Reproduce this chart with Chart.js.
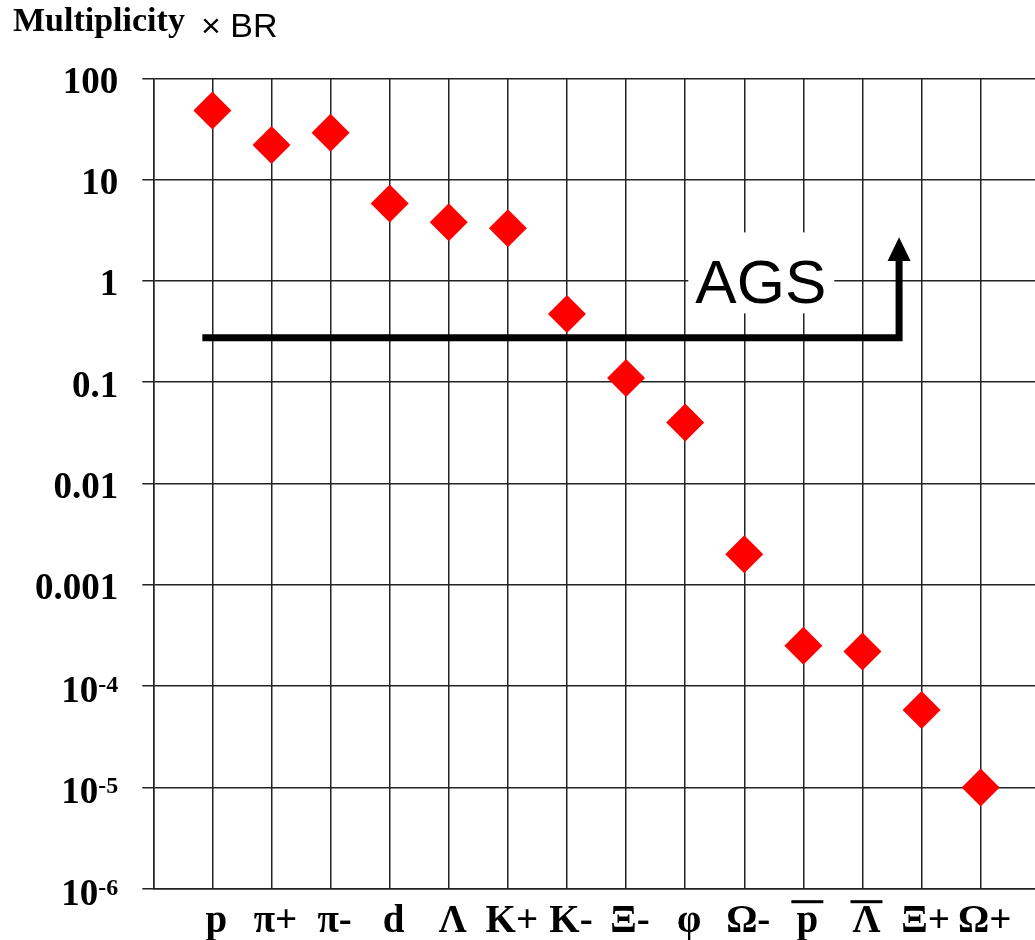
<!DOCTYPE html>
<html>
<head>
<meta charset="utf-8">
<title>Multiplicity × BR</title>
<script src="https://cdn.jsdelivr.net/npm/chart.js@4.4.1/dist/chart.umd.min.js"></script>
<style>
  html, body { margin: 0; padding: 0; background: #fff; overflow: hidden; }
  #yieldChart { display: block; width: 1035px; height: 940px; }
</style>
</head>
<body>
<canvas id="yieldChart" width="1035" height="940"></canvas>
<script>
// particle species along the x axis (a trailing U+0305 means "draw a bar over it")
const particles = ['p', 'π+', 'π-', 'd', 'Λ', 'K+', 'K-', 'Ξ-', 'φ', 'Ω-', 'p\u0305', 'Λ\u0305', 'Ξ+', 'Ω+'];
// multiplicity x branching ratio per species
const multiplicity = [48, 22, 29, 5.8, 3.8, 3.3, 0.47, 0.11, 0.04, 0.002, 2.5e-4, 2.2e-4, 5.8e-5, 1e-5];
// decade ticks on the log axis; '^' splits off the exponent
const yTicks = [1e-6, 1e-5, 1e-4, 1e-3, 1e-2, 0.1, 1, 10, 100];
const yTickLabels = ['10^-6', '10^-5', '10^-4', '0.001', '0.01', '0.1', '1', '10', '100'];
// AGS reach: threshold line running right, then up into an arrow
const agsX = [-0.17, 11.62, 11.62];
const agsY = [0.275, 0.275, 1.57];
const agsArrowTip = 2.7;
const agsLabel = 'AGS';
const agsLabelX = 9.28;
const agsLabelY = 0.6;

const serif = '"Liberation Serif", "Times New Roman", serif';
const sans = '"Liberation Sans", Arial, sans-serif';
const gridColor = '#222';

const decorations = {
    id: 'decorations',
    beforeDatasetsDraw(chart) {
        const { ctx, scales: { x, y } } = chart;
        // label sits on a white patch that hides the grid behind it
        ctx.save();
        ctx.font = '62px ' + sans;
        const w = ctx.measureText(agsLabel).width;
        const cx = x.getPixelForValue(agsLabelX);
        const base = y.getPixelForValue(agsLabelY);
        ctx.fillStyle = '#fff';
        ctx.fillRect(cx - w / 2 - 7, base - 71, w + 15, 81);
        ctx.fillStyle = '#000';
        ctx.textAlign = 'center';
        ctx.textBaseline = 'alphabetic';
        ctx.fillText(agsLabel, cx, base);
        ctx.restore();
    },
    afterDraw(chart) {
        const { ctx, chartArea, scales: { x, y } } = chart;
        ctx.save();
        ctx.fillStyle = '#000';
        ctx.textBaseline = 'alphabetic';

        // arrow head on top of the AGS line
        const ax = x.getPixelForValue(agsX[agsX.length - 1]);
        const tipY = y.getPixelForValue(agsArrowTip);
        const baseY = y.getPixelForValue(agsY[agsY.length - 1]);
        ctx.beginPath();
        ctx.moveTo(ax, tipY);
        ctx.lineTo(ax + 11.5, baseY);
        ctx.lineTo(ax - 11.5, baseY);
        ctx.closePath();
        ctx.fill();

        // axis title
        ctx.textAlign = 'left';
        ctx.font = 'bold 34px ' + serif;
        ctx.fillText('Multiplicity', 13, 31);
        ctx.font = '34px ' + sans;
        ctx.fillText('× BR', 201, 37);

        // y tick labels, powers of ten get a superscript
        const right = chartArea.left - 35;
        ctx.textAlign = 'right';
        yTicks.forEach((v, i) => {
            const py = y.getPixelForValue(v);
            const [mant, exp] = yTickLabels[i].split('^');
            if (exp) {
                ctx.font = 'bold 24px ' + serif;
                ctx.fillText(exp, right, py + 6);
                const ew = ctx.measureText(exp).width;
                ctx.font = 'bold 37px ' + serif;
                ctx.fillText(mant, right - ew, py + 16);
            } else {
                ctx.font = 'bold 37px ' + serif;
                ctx.fillText(mant, right, py + 14.5);
            }
        });

        // species names under the axis
        ctx.textAlign = 'center';
        ctx.font = 'bold 39px ' + serif;
        particles.forEach((name, i) => {
            const px = x.getPixelForValue(i) + 4;
            const bar = name.endsWith('\u0305');
            const text = bar ? name.slice(0, -1) : name;
            ctx.fillText(text, px, chartArea.bottom + 43);
            if (bar) {
                ctx.fillRect(px - 16, chartArea.bottom + 11.5, 32, 3);
            }
        });
        ctx.restore();
    }
};

const ctx = document.getElementById('yieldChart').getContext('2d');
const chart = new Chart(ctx, {
    type: 'scatter',
    data: {
        datasets: [
            {
                label: 'Multiplicity × BR',
                data: multiplicity.map((v, i) => ({ x: i, y: v })),
                pointStyle: 'rectRot',
                pointRadius: 19,
                pointHoverRadius: 19,
                pointBackgroundColor: '#ff0000',
                pointBorderWidth: 0,
                borderColor: '#ff0000',
                showLine: false,
                order: 1
            },
            {
                label: agsLabel,
                data: agsX.map((v, i) => ({ x: v, y: agsY[i] })),
                showLine: true,
                borderColor: '#000',
                borderWidth: 7,
                borderJoinStyle: 'miter',
                borderCapStyle: 'butt',
                pointRadius: 0,
                pointHoverRadius: 0,
                tension: 0,
                order: 2
            }
        ]
    },
    options: {
        responsive: false,
        animation: false,
        events: [],
        layout: {
            autoPadding: false,
            padding: { left: 142.3, top: 78.3, right: 0, bottom: 51.3 }
        },
        plugins: {
            legend: { display: false },
            tooltip: { enabled: false }
        },
        scales: {
            x: {
                type: 'linear',
                min: -1,
                max: 13.92,
                ticks: { display: false, stepSize: 1, includeBounds: false },
                grid: { color: gridColor, lineWidth: 1.5, drawTicks: false },
                border: { color: gridColor, width: 1.5 }
            },
            y: {
                type: 'logarithmic',
                min: 1e-6,
                max: 100,
                afterBuildTicks: (scale) => {
                    scale.ticks = yTicks.map(v => ({ value: v }));
                },
                ticks: { display: false },
                grid: { color: gridColor, lineWidth: 1.5, drawTicks: true, tickLength: 11 },
                border: { color: gridColor, width: 1.5 }
            }
        }
    },
    plugins: [decorations]
});
</script>
</body>
</html>
